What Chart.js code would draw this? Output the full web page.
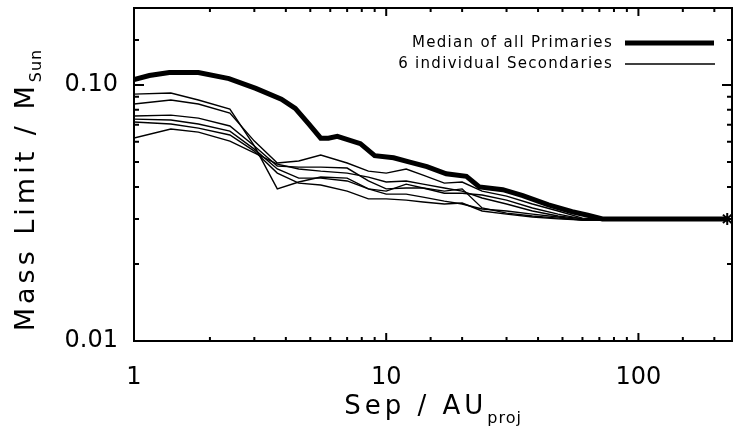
<!DOCTYPE html>
<html>
<head>
<meta charset="utf-8">
<script src="https://cdn.jsdelivr.net/npm/chart.js@4.4.1/dist/chart.umd.min.js"></script>
<style>
  html, body { margin: 0; padding: 0; background: #fff; }
  #wrap { width: 740px; height: 433px; }
</style>
</head>
<body>
<div id="wrap"><canvas id="massChart" width="740" height="433"></canvas></div>
<script>
// median of all primaries
const medianSep  = [1, 1.15, 1.38, 1.8, 2.38, 3.04, 3.84, 4.36, 4.9, 5.5, 5.9, 6.4, 7.9, 9.0, 10.7, 12.4, 14.5, 17.3, 20.8, 23.4, 29, 34.8, 44, 54.6, 63, 72, 80, 105, 166, 225];
const medianMass = [0.105, 0.109, 0.112, 0.112, 0.106, 0.097, 0.088, 0.081, 0.071, 0.062, 0.062, 0.063, 0.059, 0.053, 0.052, 0.050, 0.048, 0.045, 0.044, 0.040, 0.039, 0.037, 0.034, 0.032, 0.031, 0.030, 0.030, 0.030, 0.030, 0.030];

// 6 individual secondaries (same separations)
const secSep = [1, 1.4, 1.8, 2.4, 3.0, 3.7, 4.5, 5.5, 7, 8.5, 10, 12, 14, 17, 20, 24, 30, 38, 48, 60, 80];
const sec1 = [0.0922, 0.0931, 0.0874, 0.0806, 0.0578, 0.0393, 0.0418, 0.0437, 0.0433, 0.0393, 0.0385, 0.0410, 0.0396, 0.0385, 0.0393, 0.0331, 0.0316, 0.0308, 0.0302, 0.0297, 0.0297];
const sec2 = [0.0843, 0.0874, 0.0843, 0.0777, 0.0604, 0.0496, 0.0505, 0.0533, 0.0496, 0.0461, 0.0453, 0.0470, 0.0445, 0.0414, 0.0418, 0.0385, 0.0368, 0.0343, 0.0322, 0.0302, 0.0297];
const sec3 = [0.0757, 0.0763, 0.0743, 0.0692, 0.0578, 0.0483, 0.0478, 0.0478, 0.0474, 0.0422, 0.0393, 0.0396, 0.0396, 0.0378, 0.0378, 0.0372, 0.0355, 0.0331, 0.0313, 0.0300, 0.0297];
const sec4 = [0.0736, 0.0730, 0.0704, 0.0661, 0.0562, 0.0470, 0.0433, 0.0433, 0.0422, 0.0393, 0.0375, 0.0375, 0.0365, 0.0352, 0.0343, 0.0328, 0.0322, 0.0313, 0.0305, 0.0297, 0.0297];
const sec5 = [0.0717, 0.0704, 0.0679, 0.0638, 0.0552, 0.0453, 0.0414, 0.0407, 0.0385, 0.0359, 0.0359, 0.0355, 0.0349, 0.0343, 0.0346, 0.0322, 0.0313, 0.0305, 0.0300, 0.0297, 0.0297];
const sec6 = [0.0621, 0.0673, 0.0655, 0.0604, 0.0543, 0.0491, 0.0470, 0.0461, 0.0453, 0.0437, 0.0418, 0.0422, 0.0410, 0.0396, 0.0385, 0.0362, 0.0343, 0.0322, 0.0308, 0.0300, 0.0297];

const xTickValues = [1, 10, 100];
const xTickText = ['1', '10', '100'];
const yTickValues = [0.01, 0.1];
const yTickText = ['0.01', '0.10'];

const FONT = 'DejaVu Sans';

function toPoints(xs, ys) {
    return xs.map((x, i) => ({ x: x, y: ys[i] }));
}

function tickLabel(values, texts) {
    return function (v) {
        for (let i = 0; i < values.length; i++) {
            if (Math.abs(Math.log10(v) - Math.log10(values[i])) < 1e-6) return texts[i];
        }
        return '';
    };
}

const secondaries = [sec1, sec2, sec3, sec4, sec5, sec6].map(s => ({
    data: toPoints(secSep, s),
    borderColor: '#000',
    borderWidth: 1.4,
    pointRadius: 0,
    tension: 0
}));

// box, inward ticks, axis titles with subscripts, legend
const idlFrame = {
    id: 'idlFrame',
    afterDraw(chart) {
        const ctx = chart.ctx;
        const a = chart.chartArea;
        const xs = chart.scales.x;
        const ys = chart.scales.y;
        ctx.save();
        ctx.strokeStyle = '#000';
        ctx.lineWidth = 2;
        ctx.strokeRect(a.left, a.top, a.right - a.left, a.bottom - a.top);

        ctx.beginPath();
        xs.ticks.forEach(t => {
            const p = xs.getPixelForValue(t.value);
            if (p < a.left + 1 || p > a.right - 1) return;
            const lg = Math.log10(t.value);
            const len = Math.abs(lg - Math.round(lg)) < 1e-6 ? 8 : 4;
            ctx.moveTo(p, a.bottom); ctx.lineTo(p, a.bottom - len);
            ctx.moveTo(p, a.top); ctx.lineTo(p, a.top + len);
        });
        ys.ticks.forEach(t => {
            const p = ys.getPixelForValue(t.value);
            if (p < a.top + 1 || p > a.bottom - 1) return;
            const lg = Math.log10(t.value);
            const len = Math.abs(lg - Math.round(lg)) < 1e-6 ? 10 : 5;
            ctx.moveTo(a.left, p); ctx.lineTo(a.left + len, p);
            ctx.moveTo(a.right, p); ctx.lineTo(a.right - len, p);
        });
        ctx.stroke();

        ctx.fillStyle = '#000';

        // y title
        ctx.font = '27px ' + FONT;
        ctx.letterSpacing = '4px';
        const yMain = 'Mass Limit / M';
        const wMain = ctx.measureText(yMain).width;
        ctx.font = '16px ' + FONT;
        ctx.letterSpacing = '1px';
        const wSub = ctx.measureText('Sun').width;
        const total = wMain + wSub;
        ctx.save();
        ctx.translate(34, 190 + total / 2);
        ctx.rotate(-Math.PI / 2);
        ctx.textAlign = 'left';
        ctx.textBaseline = 'alphabetic';
        ctx.font = '27px ' + FONT;
        ctx.letterSpacing = '4px';
        ctx.fillText(yMain, 0, 0);
        ctx.font = '16px ' + FONT;
        ctx.letterSpacing = '1px';
        ctx.fillText('Sun', wMain, 7);
        ctx.restore();

        // x title
        ctx.font = '26px ' + FONT;
        ctx.letterSpacing = '4px';
        const xMain = 'Sep / AU';
        const wx = ctx.measureText(xMain).width;
        ctx.font = '16px ' + FONT;
        ctx.letterSpacing = '1px';
        const wxs = ctx.measureText('proj').width;
        const x0 = (a.left + a.right) / 2 - (wx + wxs) / 2;
        ctx.textAlign = 'left';
        ctx.textBaseline = 'alphabetic';
        ctx.font = '26px ' + FONT;
        ctx.letterSpacing = '4px';
        ctx.fillText(xMain, x0, 414);
        ctx.font = '16px ' + FONT;
        ctx.letterSpacing = '1px';
        ctx.fillText('proj', x0 + wx, 423);

        // legend
        ctx.font = '15px ' + FONT;
        ctx.letterSpacing = '1.3px';
        ctx.textAlign = 'right';
        ctx.textBaseline = 'middle';
        ctx.fillText('Median of all Primaries', 613, 43);
        ctx.fillText('6 individual Secondaries', 613, 64);
        ctx.lineWidth = 5;
        ctx.beginPath(); ctx.moveTo(625, 43); ctx.lineTo(714, 43); ctx.stroke();
        ctx.lineWidth = 1.4;
        ctx.beginPath(); ctx.moveTo(625, 64); ctx.lineTo(715, 64); ctx.stroke();
        ctx.restore();
    }
};

new Chart(document.getElementById('massChart'), {
    type: 'line',
    data: {
        datasets: [{
            data: toPoints(medianSep, medianMass),
            borderColor: '#000',
            backgroundColor: '#000',
            borderWidth: 5,
            tension: 0,
            pointStyle: 'star',
            pointRadius: ctx => ctx.dataIndex === medianSep.length - 1 ? 6 : 0,
            pointBorderWidth: 2
        }].concat(secondaries)
    },
    options: {
        responsive: false,
        animation: false,
        devicePixelRatio: 1,
        layout: { padding: { top: 7, right: 2, left: 0, bottom: 0 } },
        plugins: { legend: { display: false }, tooltip: { enabled: false } },
        scales: {
            x: {
                type: 'logarithmic',
                min: 1,
                max: 235,
                grid: { display: false, drawTicks: false },
                border: { display: false },
                ticks: {
                    autoSkip: false,
                    maxRotation: 0,
                    color: '#000',
                    padding: 22,
                    font: { family: FONT, size: 24 },
                    callback: tickLabel(xTickValues, xTickText)
                },
                afterFit: s => { s.height = 92; s.paddingLeft = 0; s.paddingRight = 0; }
            },
            y: {
                type: 'logarithmic',
                min: 0.01,
                max: 0.2,
                grid: { display: false, drawTicks: false },
                border: { display: false },
                ticks: {
                    autoSkip: false,
                    color: '#000',
                    padding: 16,
                    font: { family: FONT, size: 24 },
                    callback: tickLabel(yTickValues, yTickText)
                },
                afterFit: s => { s.width = 134; s.paddingTop = 0; s.paddingBottom = 0; }
            }
        }
    },
    plugins: [idlFrame]
});
</script>
</body>
</html>
